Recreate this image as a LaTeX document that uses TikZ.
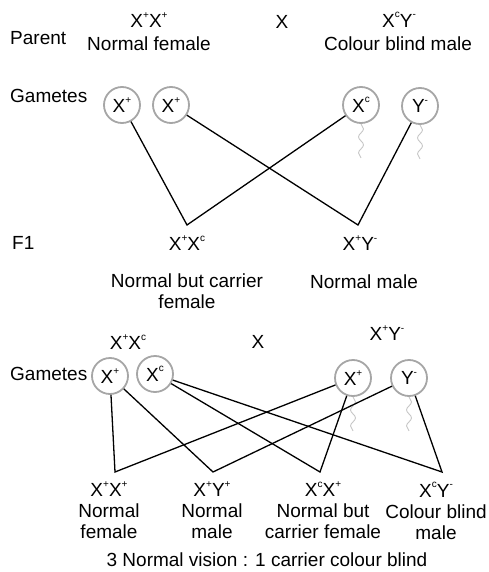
\documentclass[tikz,border=0pt]{standalone}
\usepackage{fontspec}
\setmainfont{Liberation Sans}
\usetikzlibrary{decorations.pathmorphing}
\newcommand\sps[1]{\raisebox{0.5em}{\fontsize{10}{10}\selectfont #1}}
\tikzset{
  txt/.style={inner sep=0pt, align=center, font=\fontsize{19}{21}\selectfont},
  gam/.style={circle, draw=gray!70, line width=1.8pt, minimum size=36pt, inner sep=0pt, font=\fontsize{19}{21}\selectfont},
  link/.style={line width=1.3pt, black},
  tail/.style={gray!45, line width=0.9pt, decorate, decoration={snake, amplitude=2.5pt, segment length=16pt}}
}
\begin{document}
\begin{tikzpicture}[x=1pt,y=-1pt]
\useasboundingbox (0,0) rectangle (489,572);
% ---- parents ----
\node[txt, anchor=west] (parent) at (10,38) {Parent};
\node[txt] (p1g) at (149,20) {X\sps{+}X\sps{+}};
\node[txt] (p1t) at (149,44) {Normal female};
\node[txt] (cross1) at (282,22) {X};
\node[txt] (p2g) at (399,20) {X\sps{c}Y\sps{-}};
\node[txt] (p2t) at (398,44) {Colour blind male};
% ---- gametes 1 ----
\node[txt, anchor=west] (gam1) at (10,96) {Gametes};
\node[gam] (g1) at (122,105) {X\sps{+}};
\node[gam] (g2) at (171,105) {X\sps{+}};
\node[gam] (g3) at (361,105) {X\sps{c}};
\node[gam] (g4) at (420,106) {Y\sps{-}};
\draw[tail] (g3.south) -- ++(0,34);
\draw[tail] (g4.south) -- ++(0,34);
% ---- F1 ----
\coordinate (u1) at (187,225);
\coordinate (u2) at (358,225);
\draw[link] (g1) -- (u1) -- (g3);
\draw[link] (g2) -- (u2) -- (g4);
\node[txt, anchor=west] (f1) at (12,243) {F1};
\node[txt] (f1a) at (187,243) {X\sps{+}X\sps{c}};
\node[txt] (f1b) at (360,243) {X\sps{+}Y\sps{-}};
\node[txt] (f1at) at (187,291) {Normal but carrier\\female};
\node[txt] (f1bt) at (364,282) {Normal male};
% ---- second cross ----
\node[txt] (q1g) at (128,342) {X\sps{+}X\sps{c}};
\node[txt] (cross2) at (258,342) {X};
\node[txt] (q2g) at (387,333) {X\sps{+}Y\sps{-}};
\node[txt, anchor=west] (gam2) at (10,374) {Gametes};
\node[gam] (h1) at (110,376) {X\sps{+}};
\node[gam] (h2) at (155,374) {X\sps{c}};
\node[gam] (h3) at (353,378) {X\sps{+}};
\node[gam] (h4) at (409,378) {Y\sps{-}};
\draw[tail] (h3.south) -- ++(0,34);
\draw[tail] (h4.south) -- ++(0,34);
% ---- F2 ----
\coordinate (v1) at (115,472);
\coordinate (v2) at (213,472);
\coordinate (v3) at (320,472);
\coordinate (v4) at (442,472);
\draw[link] (h1) -- (v1) -- (h3);
\draw[link] (h1) -- (v2) -- (h4);
\draw[link] (h2) -- (v3) -- (h3);
\draw[link] (h2) -- (v4) -- (h4);
\node[txt] (r1) at (109,510) {X\sps{+}X\sps{+}\\Normal\\female};
\node[txt] (r2) at (212,510) {X\sps{+}Y\sps{+}\\Normal\\male};
\node[txt] (r3) at (323,510) {X\sps{c}X\sps{+}\\Normal but\\carrier female};
\node[txt] (r4) at (436,511) {X\sps{c}Y\sps{-}\\Colour blind\\male};
\node[txt] (ratio) at (267,560) {3 Normal vision : 1 carrier colour blind};
\end{tikzpicture}
\end{document}
